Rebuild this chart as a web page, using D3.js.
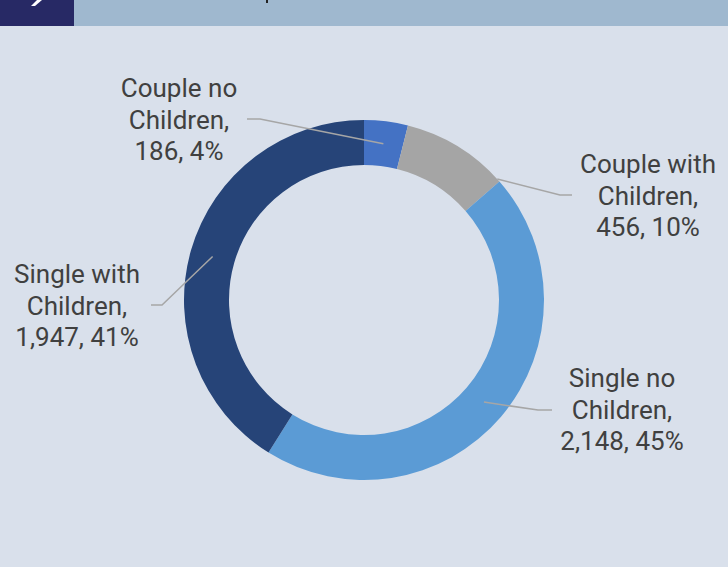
<!DOCTYPE html>
<html lang="en">
<head>
<meta charset="UTF-8">
<title>chart</title>
<script src="https://d3js.org/d3.v7.min.js"></script>
<style>
  html, body { margin: 0; padding: 0; background: #d9e0eb; }
  svg { display: block; }
</style>
</head>
<body>
<svg width="728" height="567"></svg>
<script>
// data
const categories = ["Couple no Children", "Couple with Children", "Single no Children", "Single with Children"];
const values = [186, 456, 2148, 1947];
const percents = ["4%", "10%", "45%", "41%"];
const colors = ["#4472c4", "#a5a5a5", "#5b9bd5", "#264478"];

// label layout (first baseline, leader elbow/end)
const labelLayout = [
  {x: 179, y: 97,  lines: ["Couple no", "Children,"],   ex: 260, ey: 119, endX: 247, t: 0.5,  r: "mid"},
  {x: 648, y: 173, lines: ["Couple with", "Children,"], ex: 560, ey: 195, endX: 572, t: 0.97, r: "outer"},
  {x: 622, y: 387, lines: ["Single no", "Children,"],   ex: 538, ey: 410, endX: 552, t: 0.5,  r: "mid"},
  {x: 77,  y: 283, lines: ["Single with", "Children,"], ex: 162, ey: 305, endX: 151, t: 0.5,  r: "mid"}
];

const width = 728, height = 567;
const cx = 364, cy = 300;
const outerR = 180, innerR = 135;
const lineH = 31.5;

const svg = d3.select("svg");

// header strip
svg.append("rect").attr("x", 0).attr("y", 0).attr("width", width).attr("height", 26).attr("fill", "#9fb8cf");
svg.append("rect").attr("x", 0).attr("y", 0).attr("width", 74).attr("height", 26).attr("fill", "#272965");
svg.append("path").attr("d", "M37,0L42,0L35,6L31,6Z").attr("fill", "#ffffff");
svg.append("rect").attr("x", 266).attr("y", 0).attr("width", 2).attr("height", 3).attr("fill", "#222222");

const pie = d3.pie().sort(null).value(d => d)(values);
const arc = d3.arc().innerRadius(innerR).outerRadius(outerR);

const g = svg.append("g").attr("transform", "translate(" + cx + "," + cy + ")");

g.selectAll("path.slice")
  .data(pie)
  .enter()
  .append("path")
  .attr("class", "slice")
  .attr("d", arc)
  .attr("fill", (d, i) => colors[i]);

// leader lines + labels
const fmt = d3.format(",");
pie.forEach((d, i) => {
  const L = labelLayout[i];
  const a = d.startAngle + (d.endAngle - d.startAngle) * L.t;
  const rr = L.r === "outer" ? outerR : (innerR + outerR) / 2;
  const ax = cx + rr * Math.sin(a);
  const ay = cy - rr * Math.cos(a);
  svg.append("polyline")
    .attr("points", [[ax, ay], [L.ex, L.ey], [L.endX, L.ey]].map(p => p.join(",")).join(" "))
    .attr("fill", "none")
    .attr("stroke", "#a6a6a6")
    .attr("stroke-width", 1.5);

  const text = svg.append("text")
    .attr("x", L.x)
    .attr("y", L.y)
    .attr("text-anchor", "middle")
    .attr("font-family", "Roboto, sans-serif")
    .attr("font-size", 26)
    .attr("fill", "#404040");
  const lines = L.lines.concat([fmt(values[i]) + ", " + percents[i]]);
  lines.forEach((s, k) => {
    text.append("tspan").attr("x", L.x).attr("y", L.y + k * lineH).text(s);
  });
});
</script>
</body>
</html>
